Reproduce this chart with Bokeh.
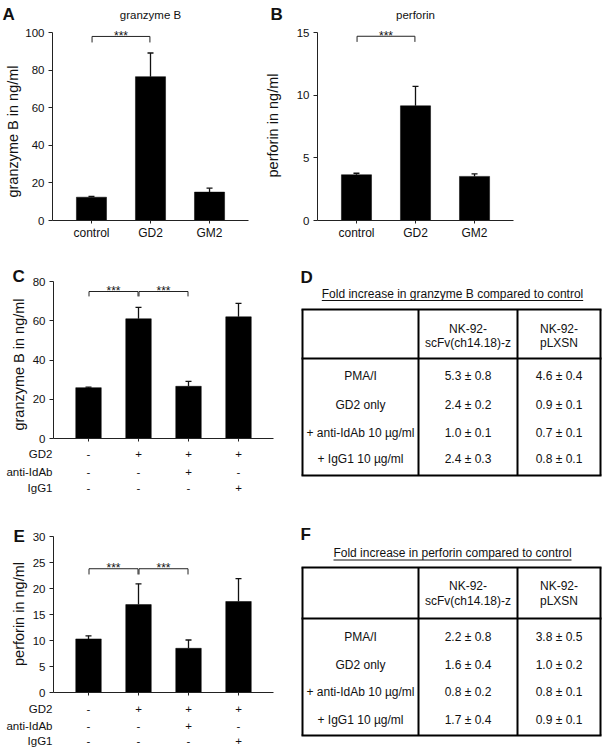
import math
from bokeh.plotting import figure
from bokeh.models import Range1d, FixedTicker, LinearAxis
from bokeh.embed import file_html
from bokeh.resources import INLINE
from bokeh.core.properties import value

FONT = "Liberation Sans"
INK = "#111111"
AX = "#222222"
W, H = 602, 750

# ---------------- data ----------------
a_cats = ["control", "GD2", "GM2"]
a_vals = [12.4, 76.5, 15.1]
a_errs = [0.4, 12.6, 2.1]

b_cats = ["control", "GD2", "GM2"]
b_vals = [3.65, 9.15, 3.52]
b_errs = [0.12, 1.55, 0.2]

c_vals = [25.9, 61.0, 26.6, 62.0]
c_errs = [0.3, 5.8, 2.5, 6.9]

e_vals = [10.3, 16.9, 8.5, 17.5]
e_errs = [0.6, 4.0, 1.6, 4.4]

treat_rows = ["GD2", "anti-IdAb", "IgG1"]
treat_signs = [["-", "+", "+", "+"],
               ["-", "-", "+", "-"],
               ["-", "-", "-", "+"]]

a_title = "granzyme B"
b_title = "perforin"
a_ylabel = "granzyme B in ng/ml"
b_ylabel = "perforin in ng/ml"
sig_text = "***"

d_title = "Fold increase in granzyme B compared to control"
f_title = "Fold increase in perforin compared to control"
tbl_head1 = ["NK-92-", "NK-92-"]
tbl_head2 = ["scFv(ch14.18)-z", "pLXSN"]
tbl_rows = ["PMA/I", "GD2 only", "+ anti-IdAb 10 µg/ml", "+ IgG1 10 µg/ml"]
d_scfv = ["5.3 ± 0.8", "2.4 ± 0.2", "1.0 ± 0.1", "2.4 ± 0.3"]
d_plxsn = ["4.6 ± 0.4", "0.9 ± 0.1", "0.7 ± 0.1", "0.8 ± 0.1"]
f_scfv = ["2.2 ± 0.8", "1.6 ± 0.4", "0.8 ± 0.2", "1.7 ± 0.4"]
f_plxsn = ["3.8 ± 0.5", "1.0 ± 0.2", "0.8 ± 0.1", "0.9 ± 0.1"]

# ---------------- one page-sized canvas (pixel coordinates) ----------------
p = figure(width=W, height=H, output_backend="svg", toolbar_location=None, tools="",
           title=None, x_range=Range1d(0, W), y_range=Range1d(H, 0),
           x_axis_location=None, y_axis_location=None, min_border=0)
p.outline_line_color = None
p.grid.visible = False
p.background_fill_color = "white"
p.border_fill_color = "white"


def txt(x, y, text, size="12px", align="center", base="middle", bold=False,
        angle=0.0, xr="default", yr="default"):
    if not isinstance(x, list):
        x, y, text = [x], [y], [text]
    p.text(x=x, y=y, text=text, text_font=value(FONT), text_font_size=size,
           text_color=INK, text_align=align, text_baseline=base, angle=angle,
           text_font_style="bold" if bold else "normal",
           x_range_name=xr, y_range_name=yr)


# chart boxes (pixel placement of the value axes)
specs = {
    # name: (n, pad, ymax, ystep, x_left, x_right, y_top_px, y_zero_px)
    "A": (3, 0.66, 100, 20, 52, 248, 32, 220),
    "B": (3, 0.66, 15, 5, 317, 513, 32, 220),
    "C": (4, 0.70, 80, 20, 53, 273, 281, 438),
    "E": (4, 0.70, 30, 5, 53, 273, 536, 692),
}
xr_map, yr_map = {}, {}
for nm, (n, pad, ymax, ystep, bx0, bx1, byt, byb) in specs.items():
    kx = (bx1 - bx0) / (n - 1 + 2 * pad)
    ky = (byb - byt) / ymax
    xr_map[nm] = Range1d(-pad - bx0 / kx, n - 1 + pad + (W - bx1) / kx)
    yr_map[nm] = Range1d(-(H - byb) / ky, ymax + byt / ky)
p.extra_x_ranges = xr_map
p.extra_y_ranges = yr_map


def chart(nm, vals, errs, cats, brackets, sig_base_px):
    n, pad, ymax, ystep, bx0, bx1, byt, byb = specs[nm]
    xs = list(range(n))
    upper = [v + e for v, e in zip(vals, errs)]
    p.vbar(x=xs, top=vals, bottom=0, width=0.51, fill_color="black", line_color="black",
           line_width=0.5, x_range_name=nm, y_range_name=nm)
    p.segment(x0=xs, y0=vals, x1=xs, y1=upper, line_color=INK, line_width=1.3,
              x_range_name=nm, y_range_name=nm)
    p.scatter(x=xs, y=upper, marker="dash", size=6, line_color=INK, line_width=1.3,
              x_range_name=nm, y_range_name=nm)

    yax = LinearAxis(x_range_name=nm, y_range_name=nm, fixed_location=-pad,
                     bounds=(0, ymax), ticker=FixedTicker(ticks=list(range(0, ymax + 1, ystep))))
    xax = LinearAxis(x_range_name=nm, y_range_name=nm, fixed_location=0,
                     bounds=(-pad, n - 1 + pad), ticker=FixedTicker(ticks=xs))
    for ax in (xax, yax):
        ax.axis_line_color = AX
        ax.axis_line_width = 1
        ax.major_tick_line_color = AX
        ax.major_tick_in = 0
        ax.minor_tick_line_color = None
        ax.major_label_text_font = FONT
        ax.major_label_text_color = INK
    yax.major_tick_out = 4
    yax.major_label_standoff = 4
    yax.major_label_text_font_size = "11.5px"
    xax.major_tick_out = 3
    xax.major_label_standoff = 2
    xax.major_label_text_font_size = "12px"
    xax.major_label_overrides = {i: (cats[i] if cats else "") for i in xs}
    p.add_layout(yax, "left")
    p.add_layout(xax, "below")

    for (i, j, yb, yl) in brackets:
        p.line(x=[i + 0.01, i + 0.01, j - 0.01, j - 0.01], y=[yl, yb, yb, yl],
               line_color=AX, line_width=1, x_range_name=nm, y_range_name=nm)
        txt((i + j) / 2, sig_base_px, sig_text, size="12px", base="alphabetic", xr=nm)


def treatments(nm, row_px, name_right_px):
    n = specs[nm][0]
    for r, label in enumerate(treat_rows):
        txt(name_right_px, row_px[r], label, size="11.5px", align="right")
        txt(list(range(n)), [row_px[r]] * n, treat_signs[r], size="11.5px", xr=nm)


def table(letter_y, title, title_y, ul_half, top, sep_y, bottom, head_ys, row_ys, col1, col2):
    xl, s1, s2, xr = 302, 418, 517, 600
    cx = [(xl + s1) / 2, (s1 + s2) / 2, (s2 + xr) / 2]
    tx = 452
    txt(300, letter_y, letter_of[title], size="17px", align="left", bold=True)
    txt(tx, title_y, title, size="12px")
    p.segment(x0=[tx - ul_half], y0=[title_y + 7], x1=[tx + ul_half], y1=[title_y + 7],
              line_color=INK, line_width=1)
    p.segment(x0=[xl, s1, s2, xr], y0=[top] * 4, x1=[xl, s1, s2, xr], y1=[bottom] * 4,
              line_color="black", line_width=2)
    p.segment(x0=[xl - 1] * 3, y0=[top, sep_y, bottom], x1=[xr + 1] * 3,
              y1=[top, sep_y, bottom], line_color="black", line_width=2)
    txt(cx[1:], [head_ys[0]] * 2, tbl_head1)
    txt(cx[1:], [head_ys[1]] * 2, tbl_head2)
    for c, texts in zip(cx, (tbl_rows, col1, col2)):
        txt([c] * len(texts), row_ys, texts)


letter_of = {d_title: "D", f_title: "F"}

# ---------------- panels ----------------
# A
chart("A", a_vals, a_errs, a_cats, [(0, 1, 97.9, 94.7)], 35)
txt(2, 14, "A", size="17px", align="left", bold=True)
txt(150, 14, a_title, size="11.5px")
txt(12.5, 131, a_ylabel, size="14.5px", angle=math.pi / 2)
# B
chart("B", b_vals, b_errs, b_cats, [(0, 1, 14.7, 14.25)], 35)
txt(270, 14, "B", size="17px", align="left", bold=True)
txt(415, 14, b_title, size="11.5px")
txt(272.5, 125, b_ylabel, size="14.5px", angle=math.pi / 2)
# C
chart("C", c_vals, c_errs, None, [(0, 1, 74.9, 72.4), (1, 2, 74.9, 72.4)], 290)
treatments("C", [453, 471, 487], 52)
txt(12, 276, "C", size="17px", align="left", bold=True)
txt(18.3, 364, a_ylabel, size="14.5px", angle=math.pi / 2)
# D
table(276.5, d_title, 293, 130.7, 309, 358, 475, (328, 342), [375, 404, 432, 458],
      d_scfv, d_plxsn)
# E
chart("E", e_vals, e_errs, None, [(0, 1, 23.8, 22.7), (1, 2, 23.8, 22.7)], 567)
treatments("E", [708, 725, 740], 52)
txt(13, 536, "E", size="17px", align="left", bold=True)
txt(18.3, 613.5, b_ylabel, size="14.5px", angle=math.pi / 2)
# F
table(534, f_title, 552.5, 119, 567, 618, 735, (585, 600), [636, 664, 691, 719],
      f_scfv, f_plxsn)

open("out.html", "w").write(file_html(p, INLINE))
